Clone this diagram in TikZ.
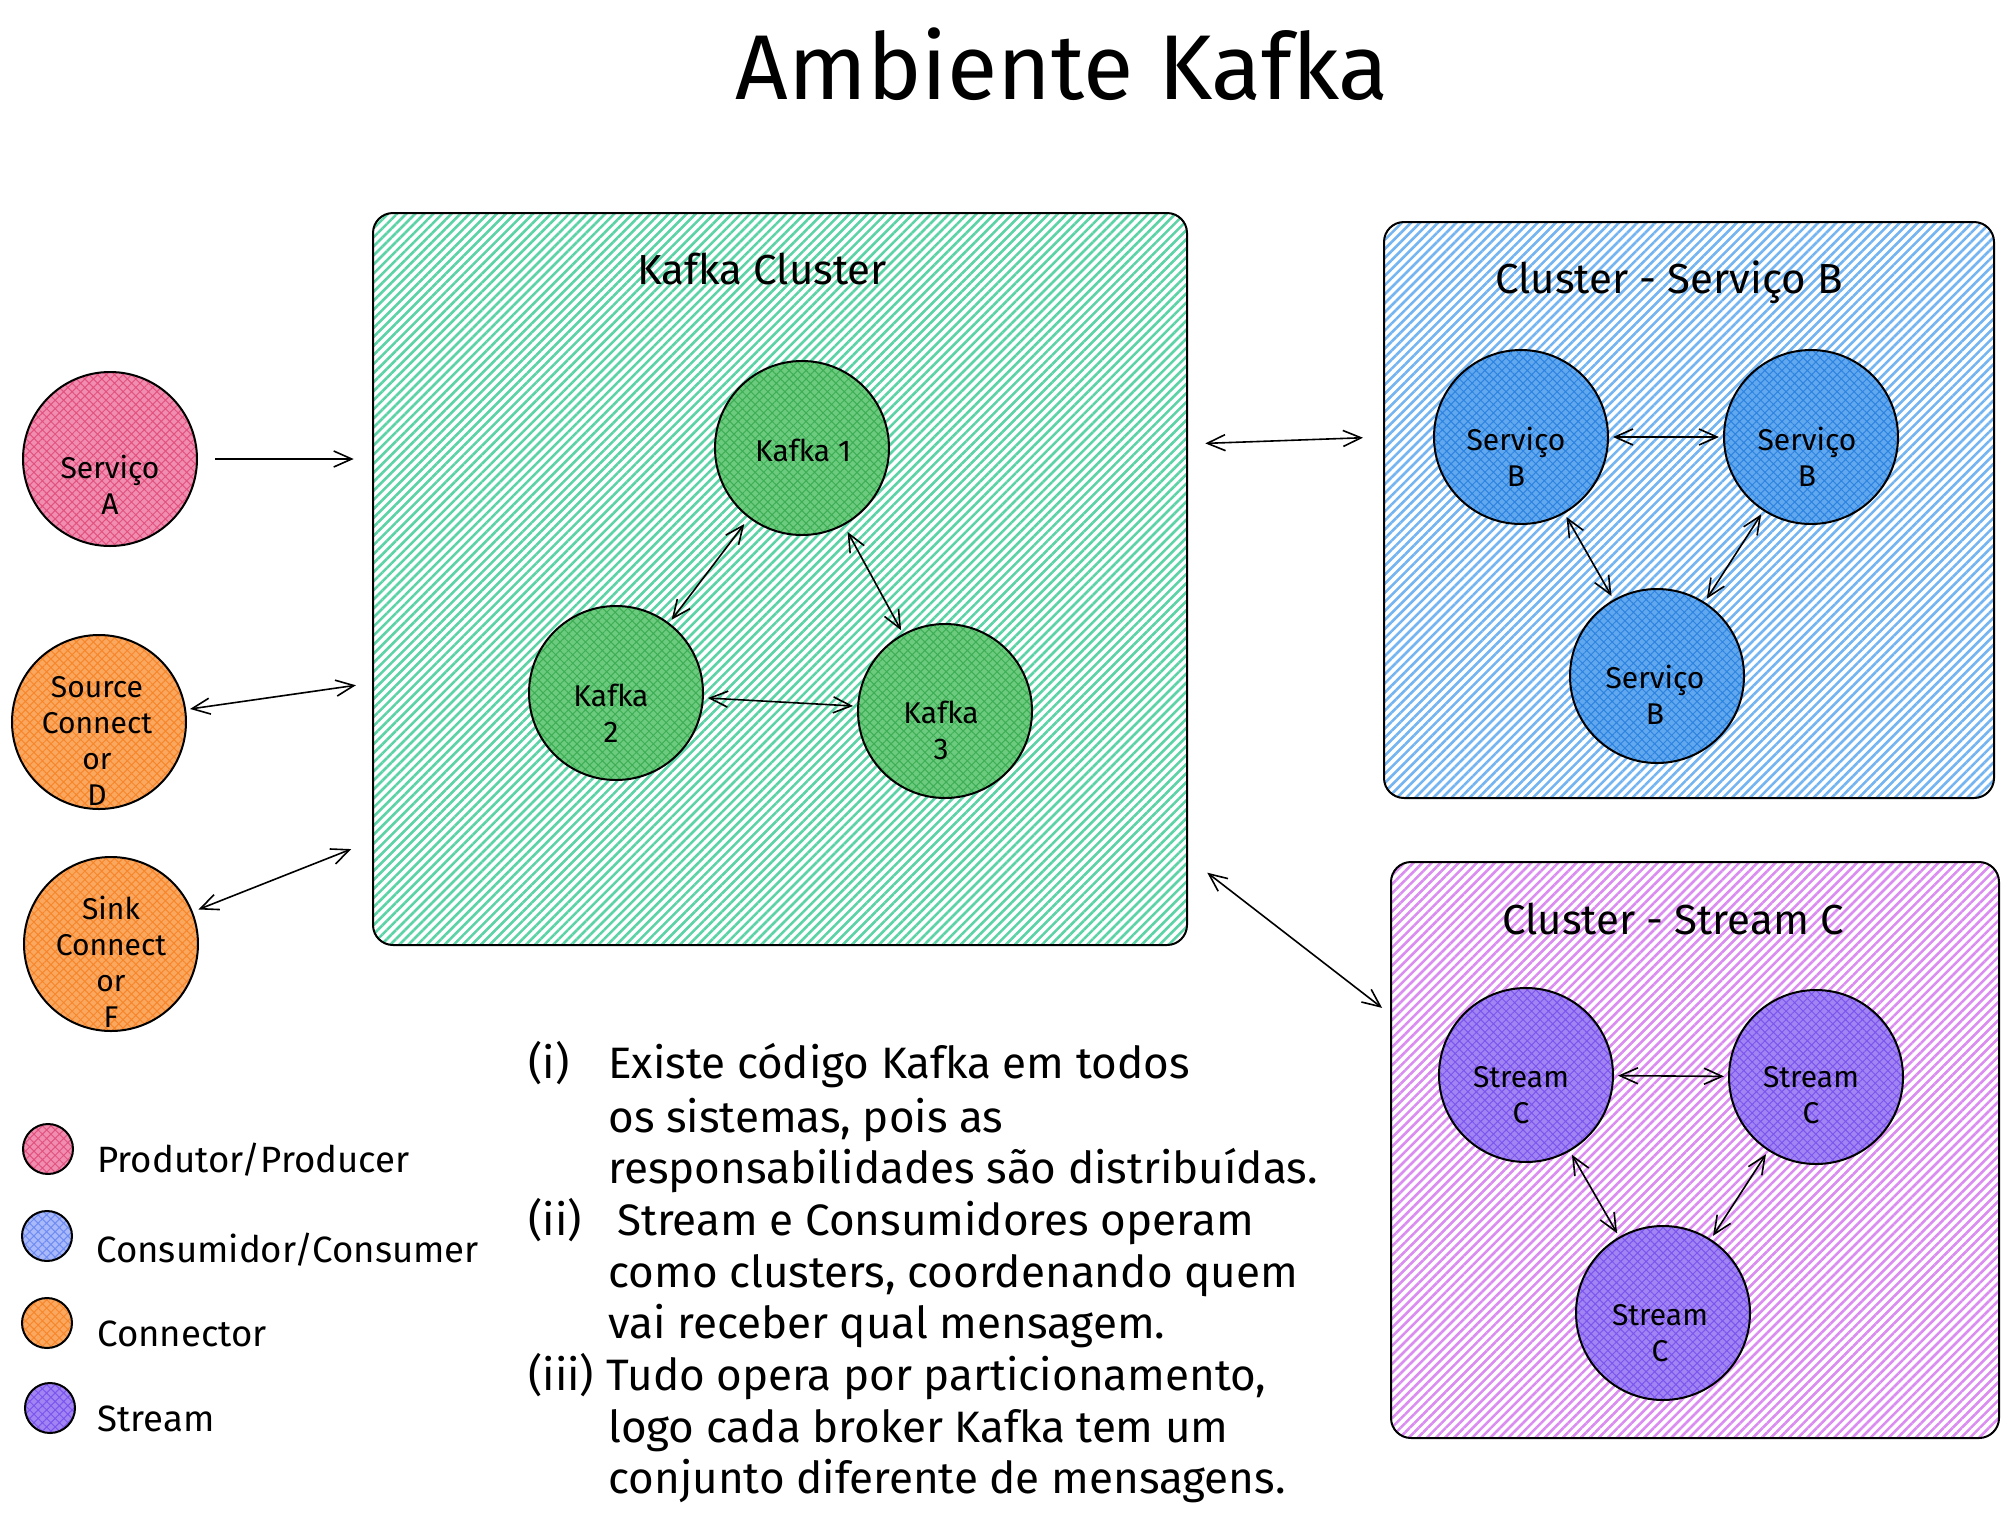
\documentclass[tikz,border=0pt]{standalone}
\usepackage{fontspec}
\setmainfont{Fira Sans}
\usetikzlibrary{arrows.meta,patterns.meta}

\definecolor{mintline}{HTML}{5CD3A6}
\definecolor{kafkafill}{HTML}{6CCB7E}
\definecolor{kafkaline}{HTML}{3DAE55}
\definecolor{blueline}{HTML}{74B4F0}
\definecolor{servfill}{HTML}{62A8EF}
\definecolor{servline}{HTML}{2D83E0}
\definecolor{lilacline}{HTML}{DB8CF0}
\definecolor{streamfill}{HTML}{A285F3}
\definecolor{streamline}{HTML}{7B55EE}
\definecolor{pinkfill}{HTML}{F08DB0}
\definecolor{pinkline}{HTML}{E2527F}
\definecolor{orangefill}{HTML}{FAA760}
\definecolor{orangeline}{HTML}{F7862A}
\definecolor{legbluefill}{HTML}{A9B9FA}
\definecolor{legblueline}{HTML}{6F8CF3}

\begin{document}
\begin{tikzpicture}[x=0.5pt, y=-0.5pt, >={Straight Barb[length=9pt,width=8pt]},
		box_style/.style={draw=black,line width=1pt,rounded corners=10pt,inner sep=0pt},
		green_box/.style={box_style,pattern={Lines[angle=45,distance=3.2pt,line width=1.3pt]},pattern color=mintline},
		blue_box/.style={box_style,pattern={Lines[angle=45,distance=3.2pt,line width=1.3pt]},pattern color=blueline},
		lilac_box/.style={box_style,pattern={Lines[angle=45,distance=3.2pt,line width=1.3pt]},pattern color=lilacline},
		circle_style/.style={circle,draw=black,line width=1pt,minimum size=87pt,inner sep=0pt},
		kafka_style/.style={circle_style,preaction={fill=kafkafill},pattern={Hatch[angle=45,distance=3pt,line width=0.5pt]},pattern color=kafkaline},
		serv_style/.style={circle_style,preaction={fill=servfill},pattern={Hatch[angle=45,distance=3pt,line width=0.5pt]},pattern color=servline},
		stream_style/.style={circle_style,preaction={fill=streamfill},pattern={Hatch[angle=45,distance=3pt,line width=0.5pt]},pattern color=streamline},
		prod_style/.style={circle_style,preaction={fill=pinkfill},pattern={Hatch[angle=45,distance=3pt,line width=0.5pt]},pattern color=pinkline},
		conn_style/.style={circle_style,preaction={fill=orangefill},pattern={Hatch[angle=45,distance=3pt,line width=0.5pt]},pattern color=orangeline},
		legend_dot/.style={minimum size=25pt},
		circle_text/.style={align=center,inner sep=0pt,font=\fontsize{15}{18}\selectfont},
		box_title/.style={anchor=base,inner sep=0pt,font=\fontsize{21}{24}\selectfont},
		legend_text/.style={anchor=base west,inner sep=0pt,font=\fontsize{18.3}{22}\selectfont},
		note_text/.style={anchor=base west,inner sep=0pt,font=\fontsize{22}{26}\selectfont},
		edge_style/.style={draw=black,line width=0.8pt}]

		\useasboundingbox (0,0) rectangle (2008,1516);

		\node[anchor=base,inner sep=0pt,font=\fontsize{46}{50}\selectfont] (title) at (1062,99) {Ambiente Kafka};

		% clusters
		\node[green_box,minimum width=407pt,minimum height=366pt] (kc) at (780,579) {};
		\node[box_title] (kc_t) at (762,284) {Kafka Cluster};
		\node[blue_box,minimum width=305pt,minimum height=288pt] (cb) at (1689,510) {};
		\node[box_title] (cb_t) at (1669,293) {Cluster - Serviço B};
		\node[lilac_box,minimum width=304pt,minimum height=288pt] (cc) at (1695,1150) {};
		\node[box_title] (cc_t) at (1673,934) {Cluster - Stream C};

		% kafka brokers
		\node[kafka_style] (k1) at (802,448) {};
		\node[kafka_style] (k2) at (616,693) {};
		\node[kafka_style] (k3) at (945,711) {};
		\node[circle_text] (k1_t) at (803,450) {Kafka 1};
		\node[circle_text] (k2_t) at (611,713) {Kafka\\2};
		\node[circle_text] (k3_t) at (941,730) {Kafka\\3};

		% consumidores
		\node[serv_style] (b1) at (1521,437) {};
		\node[serv_style] (b2) at (1811,437) {};
		\node[serv_style] (b3) at (1657,676) {};
		\node[circle_text] (b1_t) at (1516,457) {Serviço\\B};
		\node[circle_text] (b2_t) at (1807,457) {Serviço\\B};
		\node[circle_text] (b3_t) at (1655,695) {Serviço\\B};

		% streams
		\node[stream_style] (c1) at (1526,1075) {};
		\node[stream_style] (c2) at (1816,1077) {};
		\node[stream_style] (c3) at (1663,1313) {};
		\node[circle_text] (c1_t) at (1521,1095) {Stream\\C};
		\node[circle_text] (c2_t) at (1811,1095) {Stream\\C};
		\node[circle_text] (c3_t) at (1660,1333) {Stream\\C};

		% produtor e connectors
		\node[prod_style] (sa) at (110,459) {};
		\node[conn_style] (sd) at (99,722) {};
		\node[conn_style] (sf) at (111,944) {};
		\node[circle_text] (sa_t) at (110,485) {Serviço\\A};
		\node[circle_text] (sd_t) at (97,741) {Source\\Connect\\or\\D};
		\node[circle_text] (sf_t) at (111,962) {Sink\\Connect\\or\\F};

		\draw[edge_style,->,shorten <=8.5pt,shorten >=9pt] (sa) -- (sa -| kc.west);
		\draw[edge_style,<->,shorten <=2pt,shorten >=8pt] (sd) -- (kc.west |- 0,683);
		\draw[edge_style,<->,shorten <=3pt,shorten >=11pt] (sf) -- (kc.west |- 0,841);
		\draw[edge_style,<->,shorten <=8.5pt,shorten >=10pt] (kc.east |- 0,444) -- (cb.west |- 0,437);
		\draw[edge_style,<->,shorten <=12pt,shorten >=5pt] (kc.east |- 0,858) -- (cc.west |- 0,1014);

		\draw[edge_style,<->,shorten <=4pt,shorten >=2pt] (k1) -- (k2);
		\draw[edge_style,<->,shorten <=2pt,shorten >=2pt] (k2) -- (k3);
		\draw[edge_style,<->,shorten <=4pt,shorten >=2pt] (k1) -- (k3);
		\draw[edge_style,<->,shorten <=2pt,shorten >=2pt] (b1) -- (b2);
		\draw[edge_style,<->,shorten <=2pt,shorten >=2pt] (b1) -- (b3);
		\draw[edge_style,<->,shorten <=2pt,shorten >=2pt] (b2) -- (b3);
		\draw[edge_style,<->,shorten <=2pt,shorten >=2pt] (c1) -- (c2);
		\draw[edge_style,<->,shorten <=2pt,shorten >=2pt] (c1) -- (c3);
		\draw[edge_style,<->,shorten <=2pt,shorten >=2pt] (c2) -- (c3);

		% legenda
		\node[prod_style,legend_dot] (lg1) at (48,1149) {};
		\node[circle_style,legend_dot,preaction={fill=legbluefill},pattern={Hatch[angle=45,distance=3pt,line width=0.5pt]},pattern color=legblueline] (lg2) at (47,1236) {};
		\node[conn_style,legend_dot] (lg3) at (47,1323) {};
		\node[stream_style,legend_dot] (lg4) at (50,1408) {};
		\node[legend_text] (lt1) at (97,1172) {Produtor/Producer};
		\node[legend_text] (lt2) at (96,1262) {Consumidor/Consumer};
		\node[legend_text] (lt3) at (97,1346) {Connector};
		\node[legend_text] (lt4) at (97,1431) {Stream};

		% notas
		\node[note_text] (n1) at (528,1078) {(i)};
		\node[note_text] (n1a) at (608,1078) {Existe código Kafka em todos};
		\node[note_text] (n1b) at (608,1132) {os sistemas, pois as};
		\node[note_text] (n1c) at (608,1183) {responsabilidades são distribuídas.};
		\node[note_text] (n2) at (528,1235) {(ii)};
		\node[note_text] (n2a) at (617,1235) {Stream e Consumidores operam};
		\node[note_text] (n2b) at (608,1287) {como clusters, coordenando quem};
		\node[note_text] (n2c) at (608,1338) {vai receber qual mensagem.};
		\node[note_text] (n3) at (528,1390) {(iii)};
		\node[note_text] (n3a) at (606,1390) {Tudo opera por particionamento,};
		\node[note_text] (n3b) at (608,1442) {logo cada broker Kafka tem um};
		\node[note_text] (n3c) at (608,1493) {conjunto diferente de mensagens.};

		\end{tikzpicture}
\end{document}
